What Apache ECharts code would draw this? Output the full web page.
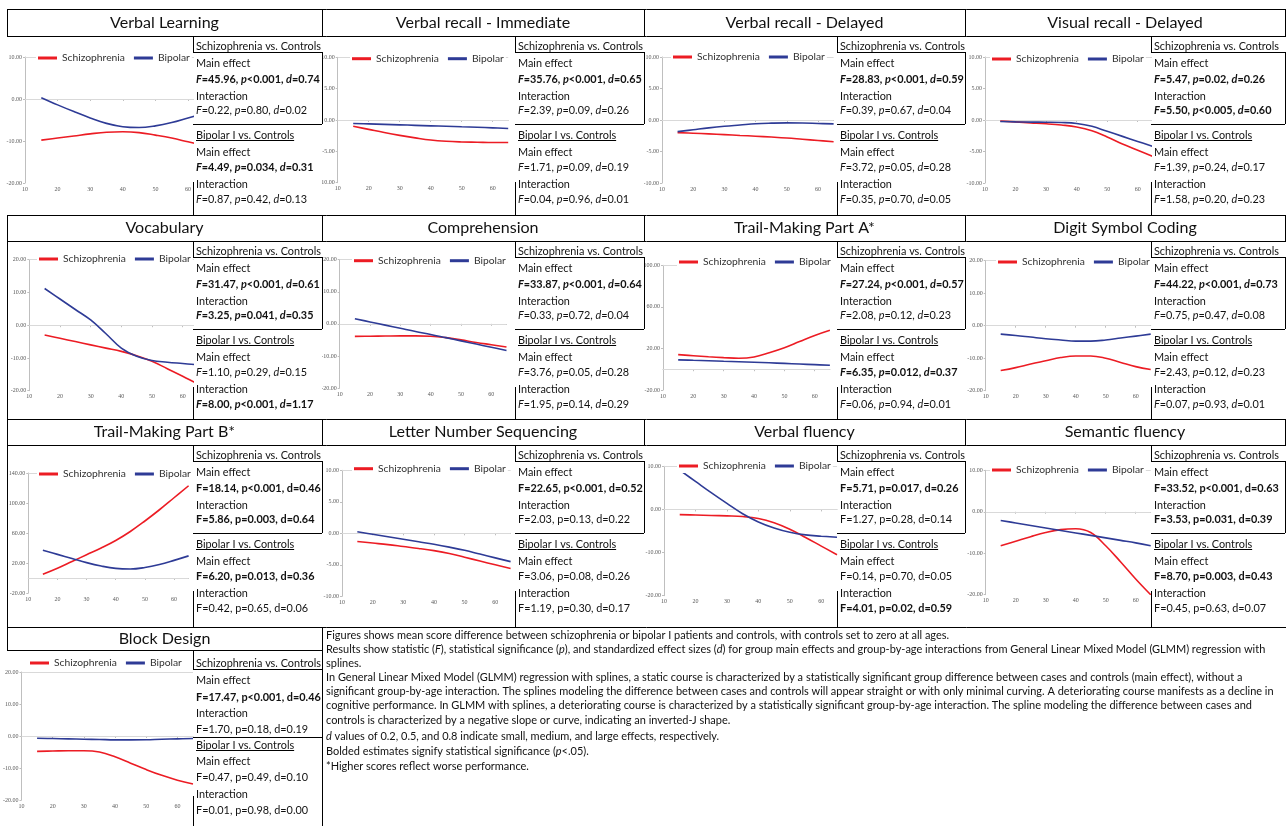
<!DOCTYPE html>
<html><head><meta charset="utf-8">
<script src="https://cdn.jsdelivr.net/npm/echarts@6/dist/echarts.min.js"></script>
<style>html,body{margin:0;padding:0;background:#fff}#c{width:1286px;height:826px}</style>
</head><body><div id="c"></div>
<script>
// ---------------- DATA ----------------
const ages = [15,20,25,30,35,40,45,50,55,60,65];
const xTickLabels = [10,20,30,40,50,60];
const seriesNames = ['Schizophrenia','Bipolar'];

const verbalLearningSZ = [-9.8,-9.3,-8.8,-8.3,-7.9,-7.8,-8.0,-8.6,-9.3,-10.2,-11.1];
const verbalLearningBP = [0.3,-1.4,-3.0,-4.5,-5.8,-6.6,-6.8,-6.4,-5.6,-4.5,-3.4];
const verbalImmSZ = [-1.0,-1.5,-2.0,-2.45,-2.85,-3.2,-3.4,-3.5,-3.55,-3.6,-3.6];
const verbalImmBP = [-0.55,-0.62,-0.7,-0.77,-0.85,-0.93,-1.0,-1.08,-1.15,-1.25,-1.35];
const verbalDelSZ = [-2.0,-2.1,-2.2,-2.32,-2.45,-2.57,-2.7,-2.85,-3.05,-3.25,-3.45];
const verbalDelBP = [-1.85,-1.55,-1.25,-1.0,-0.8,-0.6,-0.5,-0.45,-0.48,-0.55,-0.62];
const visualDelSZ = [-0.15,-0.3,-0.45,-0.6,-0.8,-1.1,-1.7,-2.7,-3.8,-4.8,-5.8];
const visualDelBP = [-0.25,-0.3,-0.33,-0.35,-0.4,-0.55,-1.0,-1.8,-2.6,-3.4,-4.2];
const vocabularySZ = [-3.0,-4.0,-5.0,-6.0,-7.0,-8.0,-9.3,-11.0,-13.3,-15.6,-18.0];
const vocabularyBP = [11.2,8.0,4.8,1.6,-2.6,-7.0,-9.5,-10.8,-11.3,-11.7,-12.1];
const comprehensionSZ = [-3.9,-3.85,-3.8,-3.75,-3.75,-3.85,-4.3,-5.0,-5.8,-6.5,-7.2];
const comprehensionBP = [1.6,0.6,-0.4,-1.4,-2.4,-3.3,-4.3,-5.3,-6.3,-7.3,-8.3];
const trailASZ = [14,13,12,11.2,10.6,11.8,15.8,20.6,26.6,32.5,37.5];
const trailABP = [9.0,8.6,8.2,7.7,7.2,6.7,6.2,5.6,5.0,4.4,3.8];
const digitSZ = [-13.8,-12.9,-11.8,-10.8,-9.8,-9.3,-9.3,-10.0,-11.3,-12.6,-13.5];
const digitBP = [-2.6,-3.0,-3.5,-4.0,-4.4,-4.75,-4.75,-4.4,-3.8,-3.2,-2.6];
const trailBSZ = [5,13,22,31,40,50,62,76,91,107,123];
const trailBBP = [37,31.5,26,20.5,16,12.8,12,14,18,23.5,29.5];
const letterNumSZ = [-1.3,-1.55,-1.8,-2.1,-2.4,-2.75,-3.2,-3.8,-4.4,-5.0,-5.6];
const letterNumBP = [0.25,-0.15,-0.55,-0.95,-1.35,-1.75,-2.2,-2.7,-3.3,-3.9,-4.5];
const verbalFluSZ = [-1.2,-1.3,-1.4,-1.5,-1.65,-2.1,-3.1,-4.6,-6.5,-8.5,-10.5];
const verbalFluBP = [9.1,6.5,3.9,1.4,-1.0,-2.9,-4.3,-5.3,-5.9,-6.2,-6.45];
const semanticFluSZ = [-8.2,-7.1,-6.0,-5.0,-4.3,-4.1,-5.0,-8.2,-12.1,-16.2,-20.0];
const semanticFluBP = [-2.1,-2.7,-3.3,-3.9,-4.5,-5.1,-5.7,-6.3,-6.9,-7.5,-8.2];
const blockDesignSZ = [-4.8,-4.7,-4.6,-4.6,-5.0,-6.5,-8.5,-10.5,-12.3,-13.8,-15.0];
const blockDesignBP = [-0.7,-0.8,-0.9,-1.0,-1.1,-1.2,-1.2,-1.15,-1.0,-0.9,-0.8];

const panelTitles = ['Verbal Learning','Verbal recall - Immediate','Verbal recall - Delayed','Visual recall - Delayed',
  'Vocabulary','Comprehension','Trail-Making Part A*','Digit Symbol Coding',
  'Trail-Making Part B*','Letter Number Sequencing','Verbal fluency','Semantic fluency','Block Design'];
const szSeries = [verbalLearningSZ,verbalImmSZ,verbalDelSZ,visualDelSZ,vocabularySZ,comprehensionSZ,trailASZ,digitSZ,trailBSZ,letterNumSZ,verbalFluSZ,semanticFluSZ,blockDesignSZ];
const bpSeries = [verbalLearningBP,verbalImmBP,verbalDelBP,visualDelBP,vocabularyBP,comprehensionBP,trailABP,digitBP,trailBBP,letterNumBP,verbalFluBP,semanticFluBP,blockDesignBP];
const yMins = [-20,-10,-10,-10,-20,-20,-20,-20,-20,-10,-20,-20,-20];
const yMaxs = [10,10,10,10,20,20,100,20,140,10,10,10,20];
const yIntervals = [10,5,5,5,10,10,40,10,40,5,10,10,10];

const statsHeaders = ['Schizophrenia vs. Controls','Main effect','Interaction','Bipolar I vs. Controls','Main effect','Interaction'];
const statsValues = [
 ['F=45.96, p<0.001, d=0.74','F=0.22, p=0.80, d=0.02','F=4.49, p=0.034, d=0.31','F=0.87, p=0.42, d=0.13'],
 ['F=35.76, p<0.001, d=0.65','F=2.39, p=0.09, d=0.26','F=1.71, p=0.09, d=0.19','F=0.04, p=0.96, d=0.01'],
 ['F=28.83, p<0.001, d=0.59','F=0.39, p=0.67, d=0.04','F=3.72, p=0.05, d=0.28','F=0.35, p=0.70, d=0.05'],
 ['F=5.47, p=0.02, d=0.26','F=5.50, p<0.005, d=0.60','F=1.39, p=0.24, d=0.17','F=1.58, p=0.20, d=0.23'],
 ['F=31.47, p<0.001, d=0.61','F=3.25, p=0.041, d=0.35','F=1.10, p=0.29, d=0.15','F=8.00, p<0.001, d=1.17'],
 ['F=33.87, p<0.001, d=0.64','F=0.33, p=0.72, d=0.04','F=3.76, p=0.05, d=0.28','F=1.95, p=0.14, d=0.29'],
 ['F=27.24, p<0.001, d=0.57','F=2.08, p=0.12, d=0.23','F=6.35, p=0.012, d=0.37','F=0.06, p=0.94, d=0.01'],
 ['F=44.22, p<0.001, d=0.73','F=0.75, p=0.47, d=0.08','F=2.43, p=0.12, d=0.23','F=0.07, p=0.93, d=0.01'],
 ['F=18.14, p<0.001, d=0.46','F=5.86, p=0.003, d=0.64','F=6.20, p=0.013, d=0.36','F=0.42, p=0.65, d=0.06'],
 ['F=22.65, p<0.001, d=0.52','F=2.03, p=0.13, d=0.22','F=3.06, p=0.08, d=0.26','F=1.19, p=0.30, d=0.17'],
 ['F=5.71, p=0.017, d=0.26','F=1.27, p=0.28, d=0.14','F=0.14, p=0.70, d=0.05','F=4.01, p=0.02, d=0.59'],
 ['F=33.52, p<0.001, d=0.63','F=3.53, p=0.031, d=0.39','F=8.70, p=0.003, d=0.43','F=0.45, p=0.63, d=0.07'],
 ['F=17.47, p<0.001, d=0.46','F=1.70, p=0.18, d=0.19','F=0.47, p=0.49, d=0.10','F=0.01, p=0.98, d=0.00']
];
const statsBold = [[1,0,1,0],[1,0,0,0],[1,0,0,0],[1,1,0,0],[1,1,0,1],[1,0,0,0],[1,0,1,0],[1,0,0,0],[1,1,1,0],[1,0,0,0],[1,0,0,1],[1,1,1,0],[1,0,0,0]];
const statsItalic = [1,1,1,1,1,1,1,1,0,0,0,0,0];

const noteLines = [
 'Figures shows mean score difference between schizophrenia or bipolar I patients and controls, with controls set to zero at all ages.',
 'Results show statistic (_F_), statistical significance (_p_), and standardized effect sizes (_d_) for group main effects and group-by-age interactions from General Linear Mixed Model (GLMM) regression with',
 'splines.',
 'In General Linear Mixed Model (GLMM) regression with splines, a static course is characterized by a statistically significant group difference between cases and controls (main effect), without a',
 'significant group-by-age interaction. The splines modeling the difference between cases and controls will appear straight or with only minimal curving. A deteriorating course manifests as a decline in',
 'cognitive performance. In GLMM with splines, a deteriorating course is characterized by a statistically significant group-by-age interaction. The spline modeling the difference between cases and',
 'controls is characterized by a negative slope or curve, indicating an inverted-J shape.',
 '_d_ values of 0.2, 0.5, and 0.8 indicate small, medium, and large effects, respectively.',
 'Bolded estimates signify statistical significance (_p_<.05).',
 '*Higher scores reflect worse performance.'
];

// ---------------- LAYOUT ----------------
const RED = '#ec1c24', BLUE = '#2e3b96';
const FAM = 'Lato';
const rowTop = [9,215,419,627], titleBottom = [36,241,445,650], rowBottom = [215,419,627,826];
const colLeft = [7,322,644,965], colRight = [322,644,965,1285], statsLeft = [193,515,837,1151];
// plot rectangles [left, top, right, bottom]
const plotRects = [
 [25,57,204.3,183],[337.7,57.3,508.2,182.7],[662,57,833.6,183],[985,57,1153,183],
 [29.3,259.7,198,390.7],[339.7,259.7,506.5,388],[663,265.3,829.9,390],[985.7,260.7,1150.7,390.7],
 [28.3,473,188.6,593],[342,470.3,510.6,596.3],[664,466.3,837,595.7],[985.7,470.3,1150.7,594.7],
 [15,672,193,800]
];
const legendPos = [[38,58],[352,58.7],[673,57],[992,59],[39,259],[354,260.7],[679,262],[998,262],[39,474],[354,468.7],[679,466],[992,470],[30,663]];
const textOffsetsStd = {lines:[10,27,43,60,74,99,116,131,148,163], under1:16, box:88, under2:104};
const textOffsetsLast = {lines:[13,30,47,63,79,95,111,127,144,160], under1:19, box:87, under2:100};
const noteY = [635,649,663,677,691,705,720,736,751,766];

const ctx = document.createElement('canvas').getContext('2d');
function measure(text, size, weight){ ctx.font = (weight||'normal') + ' ' + size + 'px ' + FAM; return ctx.measureText(text).width; }
function fit(text, target){ return +(100*target/measure(text,100)).toFixed(2); }
const titleFS = fit('Verbal Learning', 109);
const statFS = fit('Schizophrenia vs. Controls', 125);
const legendFS = fit('Schizophrenia', 63);
const noteFS = fit(noteLines[1].replace(/_/g,''), 940);

function richStyles(fs){
  return {
    n:{fontSize:fs,fontFamily:FAM,fill:'#111'},
    i:{fontSize:fs,fontFamily:FAM,fill:'#111',fontStyle:'italic'},
    b:{fontSize:fs,fontFamily:FAM,fill:'#111',fontWeight:'bold'},
    bi:{fontSize:fs,fontFamily:FAM,fill:'#111',fontWeight:'bold',fontStyle:'italic'}
  };
}
function statRich(str, bold, italic){
  const parts = str.split(', ');
  const nb = bold ? 'b' : 'n', it = italic ? (bold ? 'bi' : 'i') : nb;
  return parts.map((p,k)=>'{'+it+'|'+p[0]+'}{'+nb+'|'+p.slice(1)+(k<parts.length-1?', ':'')+'}').join('');
}
function noteRich(str){
  return str.split('_').map((s,k)=> s ? '{'+(k%2?'i':'n')+'|'+s+'}' : '').join('');
}

const G = [];
function hline(x1,x2,y){ y=Math.round(y)+0.5; G.push({type:'line',silent:true,z:100,shape:{x1:x1,y1:y,x2:x2,y2:y},style:{stroke:'#000',lineWidth:1}}); }
function vline(x,y1,y2){ x=Math.round(x)+0.5; G.push({type:'line',silent:true,z:100,shape:{x1:x,y1:y1,x2:x,y2:y2},style:{stroke:'#000',lineWidth:1}}); }
function text(x,y,str,opts){ G.push({type:'text',silent:true,z:101,x:x,y:y,style:Object.assign({text:str,verticalAlign:'middle',align:'left',fill:'#111',fontFamily:FAM},opts||{})}); }

// table frame
for (let r=0;r<4;r++) hline(7, 1286, rowTop[r]);
for (let r=0;r<3;r++){
  hline(7,1286,titleBottom[r]);
  [7,322,644,965,1285].forEach(x=>vline(x,rowTop[r],titleBottom[r]));
}
hline(7,322,titleBottom[3]);
vline(7,rowTop[3],titleBottom[3]);
vline(322,rowTop[3],826);
vline(7,titleBottom[1],rowBottom[1]);
vline(7,titleBottom[2],rowBottom[2]);

const grid=[], xAxis=[], yAxis=[], series=[], legend=[];
panelTitles.forEach((title,i)=>{
  const row = Math.floor(i/4), col = i%4;
  const T = titleBottom[row], B = rowBottom[row], S = statsLeft[col], R = colRight[col];
  const off = row===3 ? textOffsetsLast : textOffsetsStd;
  const pr = plotRects[i];
  grid.push({left:pr[0],top:pr[1],width:pr[2]-pr[0],height:pr[3]-pr[1],containLabel:false});
  const tickStyle = {fontSize:6,fontFamily:'Liberation Serif',color:'#595959'};
  xAxis.push({gridIndex:i,type:'value',min:10,max:65,interval:10,
    axisLine:{show:true,lineStyle:{color:'#bfbfbf'}},
    axisTick:{show:true,length:2,customValues:xTickLabels,lineStyle:{color:'#bfbfbf'}},
    splitLine:{show:false},
    axisLabel:Object.assign({margin:3,customValues:xTickLabels,showMinLabel:true,hideOverlap:false,
      formatter:v=>String(v)},tickStyle)});
  yAxis.push({gridIndex:i,type:'value',min:yMins[i],max:yMaxs[i],interval:yIntervals[i],
    axisLine:{show:true,lineStyle:{color:'#bfbfbf'}},axisTick:{show:true,length:2,lineStyle:{color:'#bfbfbf'}},
    splitLine:{show:false},
    axisLabel:Object.assign({margin:3,showMinLabel:true,showMaxLabel:true,hideOverlap:false,formatter:v=>v.toFixed(2)},tickStyle)});
  series.push({type:'line',name:seriesNames[0],xAxisIndex:i,yAxisIndex:i,
    data:ages.map((a,k)=>[a,szSeries[i][k]]),smooth:0.4,showSymbol:false,
    lineStyle:{color:RED,width:1.6},itemStyle:{color:RED},
    markLine:{silent:true,z:1,symbol:'none',label:{show:false},lineStyle:{color:'#d9d9d9',width:1,type:'solid'},
      data:[{yAxis:0},{yAxis:yMaxs[i]}]}});
  series.push({type:'line',name:seriesNames[1],xAxisIndex:i,yAxisIndex:i,
    data:ages.map((a,k)=>[a,bpSeries[i][k]]),smooth:0.4,showSymbol:false,
    lineStyle:{color:BLUE,width:1.6},itemStyle:{color:BLUE}});
  legend.push({data:seriesNames,z:20,left:legendPos[i][0]-2,top:legendPos[i][1]-7,icon:'rect',itemWidth:19,itemHeight:3,
    itemGap:9,padding:[0,2],backgroundColor:'#fff',selectedMode:false,
    textStyle:{fontSize:legendFS,fontFamily:FAM,color:'#333',lineHeight:14}});

  // title
  text((colLeft[col] + (row===3?322:colRight[col]))/2, (rowTop[row]+titleBottom[row])/2, title,
    {align:'center',fontSize:titleFS,fill:'#111'});
  // stats column cover and box lines
  G.push({type:'rect',silent:true,z:99,shape:{x:S+1,y:T+1,width:R-S-1,height:B-T-1},style:{fill:'#fff'}});
  vline(S,T,T+off.under1);
  vline(S,T+146,B);
  vline(R,T+off.under1,T+off.box);
  hline(S,R,T+off.under1);
  hline(S,R,T+off.box);
  const tx = S+3, L = off.lines;
  const rich = richStyles(statFS);
  text(tx,T+L[0],'{n|'+statsHeaders[0]+'}',{rich});
  text(tx,T+L[1],'{n|'+statsHeaders[1]+'}',{rich});
  text(tx,T+L[2],statRich(statsValues[i][0],statsBold[i][0],statsItalic[i]),{rich});
  text(tx,T+L[3],'{n|'+statsHeaders[2]+'}',{rich});
  text(tx,T+L[4],statRich(statsValues[i][1],statsBold[i][1],statsItalic[i]),{rich});
  text(tx,T+L[5],'{n|'+statsHeaders[3]+'}',{rich});
  hline(tx, tx+measure(statsHeaders[3],statFS), T+off.under2);
  text(tx,T+L[6],'{n|'+statsHeaders[4]+'}',{rich});
  text(tx,T+L[7],statRich(statsValues[i][2],statsBold[i][2],statsItalic[i]),{rich});
  text(tx,T+L[8],'{n|'+statsHeaders[5]+'}',{rich});
  text(tx,T+L[9],statRich(statsValues[i][3],statsBold[i][3],statsItalic[i]),{rich});
});

// notes
const noteRichStyles = richStyles(noteFS);
noteLines.forEach((ln,k)=> text(326, noteY[k], noteRich(ln), {rich:noteRichStyles}));

const chart = echarts.init(document.getElementById('c'),null,{renderer:'canvas',width:1286,height:826});
chart.setOption({
  animation:false,
  backgroundColor:'#fff',
  grid, xAxis, yAxis, series, legend,
  graphic:{elements:G}
});
</script></body></html>
